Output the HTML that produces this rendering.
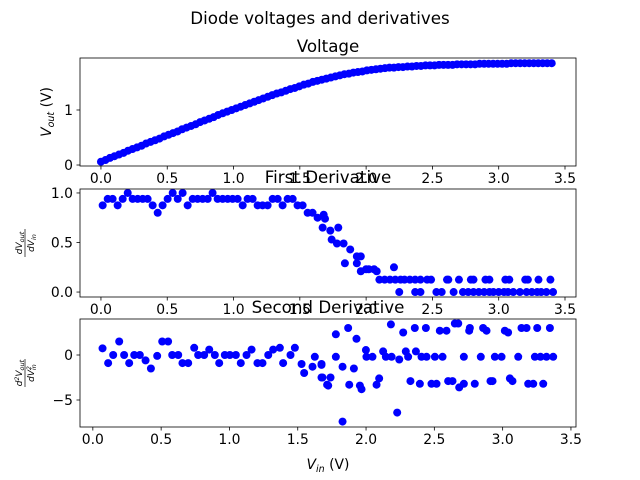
<!DOCTYPE html>
<html><head><meta charset="utf-8"><style>
body{margin:0;background:#fff}
svg{display:block;font-family:"DejaVu Sans","Liberation Sans",sans-serif}
</style></head><body>
<svg id="fig" width="640" height="480" viewBox="0 0 640 480">
<rect width="640" height="480" fill="#fff"/>
<text x="320" y="24" font-size="16.7" text-anchor="middle">Diode voltages and derivatives</text>
</svg>
<script>
// Panel 1: voltage
const vinV = [0,0.034,0.068,0.102,0.136,0.17,0.204,0.238,0.272,0.306,
0.34,0.374,0.408,0.442,0.476,0.51,0.544,0.578,0.612,0.646,
0.68,0.714,0.748,0.782,0.816,0.85,0.884,0.918,0.952,0.986,
1.02,1.054,1.088,1.122,1.156,1.19,1.224,1.258,1.292,1.326,
1.36,1.394,1.428,1.462,1.496,1.53,1.564,1.598,1.632,1.666,
1.7,1.734,1.768,1.802,1.836,1.87,1.904,1.938,1.972,2.006,
2.04,2.074,2.108,2.142,2.176,2.21,2.244,2.278,2.312,2.346,
2.38,2.414,2.448,2.482,2.516,2.55,2.584,2.618,2.652,2.686,
2.72,2.754,2.788,2.822,2.856,2.89,2.924,2.958,2.992,3.026,
3.06,3.094,3.128,3.162,3.196,3.23,3.264,3.298,3.332,3.366,3.4];
const vout = [0.06,0.09,0.13,0.16,0.19,0.22,0.26,0.29,0.32,0.35,
0.39,0.42,0.45,0.48,0.52,0.55,0.58,0.61,0.65,0.68,
0.71,0.74,0.78,0.81,0.84,0.87,0.91,0.94,0.97,1.00,
1.03,1.06,1.09,1.12,1.15,1.18,1.21,1.24,1.27,1.30,
1.32,1.35,1.38,1.40,1.43,1.46,1.48,1.51,1.53,1.55,
1.57,1.59,1.61,1.63,1.65,1.66,1.68,1.69,1.70,1.72,
1.73,1.74,1.75,1.76,1.77,1.77,1.78,1.78,1.79,1.79,
1.80,1.80,1.81,1.81,1.81,1.82,1.82,1.82,1.82,1.83,
1.83,1.83,1.83,1.83,1.84,1.84,1.84,1.84,1.84,1.84,
1.84,1.85,1.85,1.85,1.85,1.85,1.85,1.85,1.85,1.85,1.85];
// Panel 2: first derivative
const vinD1 = [0.013,0.051,0.088,0.126,0.164,0.202,0.239,0.277,0.315,0.352,0.390,0.428,0.465,0.503,0.541,0.579,0.616,0.654,0.692,0.729,0.767,0.805,0.842,0.880,0.918,0.956,0.993,1.031,1.069,1.106,1.144,1.182,1.219,1.257,1.295,1.333,1.370,1.408,1.446,1.483,1.521,1.559,1.596,1.634,1.672,
1.68,1.69,1.73,1.79,1.74,1.78,1.83,1.84,1.88,1.93,1.93,1.96,1.96,2.0,2.02,2.06,2.08,
2.10,2.14,2.18,2.21,2.22,2.26,2.29,2.33,2.37,2.41,2.46,2.49,2.61,2.62,2.70,2.79,2.81,2.90,2.93,3.05,3.08,3.20,3.22,3.30,3.39,
2.25,2.37,2.41,2.53,2.57,2.66,2.73,2.77,2.81,2.85,2.89,2.93,2.96,3.00,3.04,3.07,3.11,3.16,3.21,3.25,3.29,3.32,3.36,3.41];
const d1 = [.875,.94,.94,.875,.94,1,.94,.94,.94,.94,.875,.8,.875,.94,1,.94,1,.875,.94,.94,.94,.94,1,.94,.94,.94,.94,.94,.875,.94,.94,.875,.875,.875,.94,.94,.875,.94,.94,.875,.875,.8,.8,.75,.65,
.78,.74,.62,.65,.53,.49,.49,.29,.43,.29,.36,.36,.21,.23,.23,.23,.21,
.125,.125,.125,.25,.125,.125,.125,.125,.125,.125,.125,.125,.125,.125,.125,.125,.125,.125,.125,.125,.125,.125,.125,.125,.125,
0,0,0,0,0,0,0,0,0,0,0,0,0,0,0,0,0,0,0,0,0,0,0,0];
// Panel 3: second derivative
const vinD2 = [.071,.112,.149,.193,.229,.266,.303,.344,.386,.425,.471,.508,.551,.581,.625,.656,.698,.742,.771,.815,.852,.893,.925,.966,1.003,1.047,1.083,1.125,1.162,1.205,1.242,1.284,1.320,1.369,1.393,1.447,1.479,1.528,1.547,1.608,1.625,1.674,1.674,1.715,
1.674,1.681,1.723,1.740,1.779,1.779,1.828,1.828,1.869,1.877,1.911,1.930,1.955,1.967,1.999,2.003,2.047,2.077,2.096,2.125,2.145,2.182,2.187,2.228,2.243,2.272,2.291,2.308,2.325,2.357,2.365,2.394,2.406,2.438,2.443,2.479,2.504,2.516,2.540,2.560,2.589,2.601,2.633,2.650,2.675,2.682,2.716,2.716,2.755,2.760,2.796,2.840,2.857,2.882,2.911,2.926,2.943,2.992,3.016,3.040,3.053,3.072,3.114,3.138,3.175,3.187,3.224,3.236,3.253,3.277,3.297,3.321,3.346,3.370];
const d2 = [.74,-.9,0,1.5,0,-.9,0,0,-.6,-1.5,-.1,1.5,1.5,0,0,-.9,-.9,.8,0,0,.6,0,-.9,0,0,0,-.9,0,.6,-.9,-.9,0,.6,.8,-.9,0,.8,-1,-2,-1.3,-.2,-1.1,-2.5,-3.3,
-1.0,-2.5,-3.4,-2.5,2.3,-0.2,-1.3,-7.4,3.0,-3.3,-1.5,1.8,-3.4,-3.8,0.55,-0.2,-0.2,-3.3,-2.6,0.4,-0.2,3.4,-0.2,-6.4,-0.5,2.5,0.4,-0.2,-2.9,3.0,0.4,-3.2,-0.2,3.0,-0.2,-3.2,-0.2,-3.2,2.7,-0.2,2.7,-2.9,-2.9,3.5,3.5,-3.6,-3.2,-0.2,2.7,3.0,-3.2,-0.2,3.0,2.7,-2.9,-2.9,-0.2,-0.2,2.7,2.5,-2.6,-2.9,-0.2,3.0,3.0,-3.2,-3.2,-0.2,3.0,-0.2,-3.2,-0.2,3.0,-0.2];
const xTicks = [0,0.5,1,1.5,2,2.5,3,3.5];
const xTickLabels = ["0.0","0.5","1.0","1.5","2.0","2.5","3.0","3.5"];
const y1Ticks=[0,1], y1Labels=["0","1"];
const y2Ticks=[0,0.5,1], y2Labels=["0.0","0.5","1.0"];
const y3Ticks=[0,-5], y3Labels=["0","−5"];

const NS="http://www.w3.org/2000/svg";
const svg=document.getElementById('fig');
function mk(tag,attrs,parent){const e=document.createElementNS(NS,tag);for(const k in attrs)e.setAttribute(k,attrs[k]);(parent||svg).appendChild(e);return e;}

function panel(name,L,T,W,H,xmin,xmax,ymin,ymax,xs,ys,yt,yl,title){
  const g=mk('g',{});
  
  
  const sx=v=>L+(v-xmin)/(xmax-xmin)*W;
  const sy=v=>T+H-(v-ymin)/(ymax-ymin)*H;
  const pts=mk('g',{fill:'#0000ff'},g);
  
  
  for(let i=0;i<xs.length;i++){
    const c=mk('circle',{cx:sx(xs[i]).toFixed(2),cy:sy(ys[i]).toFixed(2),r:4},pts);
    
    
  }
  const fr=mk('rect',{x:L,y:T,width:W,height:H,fill:'none',stroke:'#000','stroke-width':0.8},g);
  
  
  xTicks.forEach((t,i)=>{
    const x=sx(t);
    mk('line',{x1:x,x2:x,y1:T+H,y2:T+H+3.5,stroke:'#000','stroke-width':0.8},g);
    const tx=mk('text',{x:x,y:T+H+17,'font-size':13.9,'text-anchor':'middle'},g);
    tx.textContent=xTickLabels[i];
    
    
  });
  yt.forEach((t,i)=>{
    const y=sy(t);
    mk('line',{x1:L-3.5,x2:L,y1:y,y2:y,stroke:'#000','stroke-width':0.8},g);
    const tx=mk('text',{x:L-7,y:y+5,'font-size':13.9,'text-anchor':'end'},g);
    tx.textContent=yl[i];
    
    
  });
  const tt=mk('text',{x:L+W/2,y:T-6,'font-size':16.7,'text-anchor':'middle'},g);
  tt.textContent=title;
  
  
}
panel('voltage',80,58,496,108,-0.158,3.583,-0.018,1.945,vinV,vout,y1Ticks,y1Labels,'Voltage');
panel('first-derivative',80,189,496,108,-0.158,3.583,-0.05,1.04,vinD1,d1,y2Ticks,y2Labels,'First Derivative');
panel('second-derivative',80,319,496,108,-0.094,3.537,-8.0,4.0,vinD2,d2,y3Ticks,y3Labels,'Second Derivative');
</script>
<script>
(function(){
const NS="http://www.w3.org/2000/svg";const svg=document.getElementById('fig');
const yl1=document.createElementNS(NS,'text');
yl1.setAttribute('transform','translate(51,112) rotate(-90)');
yl1.setAttribute('text-anchor','middle');yl1.setAttribute('font-size','13.9');
yl1.innerHTML='<tspan font-style="italic">V</tspan><tspan font-size="9.5" dy="3" font-style="italic">out</tspan><tspan dy="-3"> (V)</tspan>';


svg.appendChild(yl1);
function frac(cx,cy,top,bot,name){
  const g=document.createElementNS(NS,'g');
  g.setAttribute('transform','translate('+cx+','+cy+') rotate(-90)');
  g.setAttribute('font-size','9');g.setAttribute('font-style','italic');
  g.innerHTML='<text x="0" y="-3" text-anchor="middle">'+top+'</text><line x1="-14" x2="14" y1="0" y2="0" stroke="#000" stroke-width="0.7"/><text x="0" y="9" text-anchor="middle">'+bot+'</text>';
  
  
  svg.appendChild(g);
}
frac(25,243,'dV<tspan font-size="6.5" dy="2">out</tspan>','dV<tspan font-size="6.5" dy="2">in</tspan>','first-derivative-y-axis-title');
frac(25,373,'d<tspan font-size="6" dy="-3">2</tspan><tspan dy="3">V</tspan><tspan font-size="6.5" dy="2">out</tspan>','dV<tspan font-size="6" dy="-3">2</tspan><tspan font-size="6.5" dy="5" dx="-4">in</tspan>','second-derivative-y-axis-title');
const xl=document.createElementNS(NS,'text');
xl.setAttribute('x','328');xl.setAttribute('y','469');xl.setAttribute('text-anchor','middle');xl.setAttribute('font-size','13.9');
xl.innerHTML='<tspan font-style="italic">V</tspan><tspan font-size="9.5" dy="3" font-style="italic">in</tspan><tspan dy="-3"> (V)</tspan>';


svg.appendChild(xl);
})();
</script>
</body></html>
